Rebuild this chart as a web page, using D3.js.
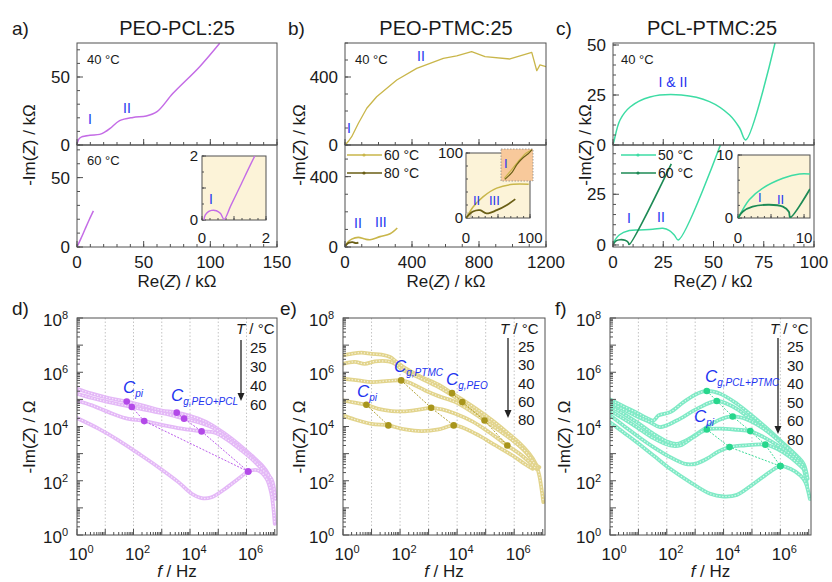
<!DOCTYPE html>
<html lang="en">
<head>
<meta charset="UTF-8">
<script src="https://d3js.org/d3.v7.min.js"></script>
<style>
  body { margin: 0; background: #fff; }
  svg { font-family: Arial, "Liberation Sans", sans-serif; }
</style>
</head>
<body>
<script>
// ---------- Nyquist data, kOhm : [Re(Z), -Im(Z)] ----------
const a40 = [[0,0],[0.4,2],[1.5,4.5],[3.5,6],[9.8,7.2],[17,7.8],[21,9.6],[24.8,12.2],[32,17.9],[42,20.3],[52,21.3],[60,24.5],[72,38],[92,57.6],[107,74.8]];
const a60 = [[0,0],[3,6.2],[6,12.8],[9,19.3],[12.3,26]];
const a60zoom = [[0.06,0],[0.1,0.15],[0.2,0.26],[0.3,0.3],[0.45,0.29],[0.58,0.2],[0.69,0.02],[0.9,0.45],[1.2,1.07],[1.5,1.7],[1.7,2.1]];

const b40 = [[0,0],[6,6],[20,22],[40,49],[80,128],[130,216],[189,284],[309,382],[428,451],[587,510],[667,524],[756,549],[836,520],[985,506],[1115,545],[1145,437],[1164,471],[1200,461]];
const b60 = [[0,0],[15,25],[40,45],[79,55],[119,45],[149,41],[209,59],[269,75],[312,108]];
const b80 = [[0,0],[10,15],[25,25],[45,28],[65,22],[80,25]];
const b60zoom = [[0,0],[1,1],[11,17],[27,33],[48,46],[74,52],[98,52]];
const b80zoom = [[0,0],[11,10],[22,12],[32,7],[48,12],[64,20],[77,29]];
const b60zoom2 = [[0.1,0.08],[0.3,0.32],[0.45,0.5],[0.6,0.68],[0.8,0.88],[0.95,0.96]];
const b80zoom2 = [[0.12,0.05],[0.35,0.28],[0.5,0.52],[0.68,0.72],[0.85,0.85],[0.97,0.98]];

const c40 = [[0,0],[0.5,2],[3.5,12.5],[8.5,19],[18.4,24],[34,25],[48,21.7],[58,15],[63,8.5],[66,2.5],[80.6,51]];
const c50 = [[0,0.8],[3.1,4.9],[8.1,7.1],[13.1,7.4],[19.8,7.7],[24.8,8.2],[28.1,7.1],[30.5,4.9],[32.5,2.5],[53.7,50]];
const c60 = [[0,0],[1.5,2],[3.5,2.6],[6,2.3],[7.6,1.2],[8,0.2],[29,40]];
const c50zoom = [[0.1,0.1],[1.7,2.9],[3.7,4.7],[6.8,6.3],[9.3,7],[10.9,7]];
const c60zoom = [[0,0],[0.7,1],[2.2,1.8],[4.7,2.1],[6.8,1.8],[7.7,1],[7.9,0.1],[10.9,4.6]];

// ---------- Bode data : [log10 f/Hz, log10 -Im(Z)/Ohm] ----------
const d25 = [[0,5.39],[0.53,5.21],[1.12,5.05],[1.76,4.92],[2.41,4.75],[3.0,4.59],[3.53,4.51],[4.29,4.29],[4.76,4.06],[5.24,3.73],[5.71,3.36],[6.18,2.93],[6.53,2.59],[6.76,2.26],[6.88,1.83]];
const d30 = [[0,5.21],[0.53,5.05],[1.12,4.9],[1.94,4.72],[2.53,4.59],[3.12,4.47],[3.79,4.29],[4.29,4.16],[4.76,3.98],[5.24,3.65],[5.71,3.28],[6.18,2.87],[6.53,2.54],[6.82,2.13],[6.94,1.52]];
const d40 = [[0,4.96],[0.53,4.78],[1.12,4.53],[1.71,4.31],[2.38,4.2],[3.0,4.06],[3.71,3.92],[4.41,3.82],[4.88,3.77],[5.35,3.49],[5.82,3.12],[6.24,2.75],[6.59,2.38],[6.88,2.07],[7.02,1.33]];
const d60 = [[0,4.31],[0.76,3.92],[1.47,3.49],[2.18,3.0],[2.88,2.5],[3.59,1.95],[4.06,1.52],[4.41,1.36],[4.76,1.39],[5.24,1.7],[5.71,2.07],[6.06,2.34],[6.41,2.38],[6.71,2.07],[6.88,1.52],[7.0,0.41]];
const dCpi = [[1.76,4.92],[1.94,4.72],[2.38,4.2],[6.06,2.34]];
const dCg = [[3.53,4.51],[3.79,4.29],[4.41,3.82],[6.06,2.34]];
const dTemps = ['25', '30', '40', '60'];

const e25 = [[0,6.62],[0.29,6.68],[0.65,6.72],[1.0,6.68],[1.35,6.65],[1.65,6.56],[1.88,6.38],[2.18,6.15],[2.76,5.82],[3.35,5.54],[3.82,5.23],[4.29,4.92],[4.76,4.59],[5.24,4.22],[5.71,3.82],[6.18,3.4],[6.53,3.0],[6.76,2.62],[6.88,2.19],[7.02,1.21]];
const e30 = [[0,6.31],[0.41,6.38],[0.76,6.31],[1.12,6.4],[1.59,6.4],[1.82,6.31],[2.06,6.11],[2.76,5.76],[3.35,5.45],[4.18,4.9],[4.76,4.47],[5.24,4.1],[5.71,3.7],[6.18,3.3],[6.53,2.91],[6.76,2.59],[6.88,2.5]];
const e40 = [[0,5.76],[0.53,5.7],[1.0,5.64],[1.59,5.68],[2.04,5.7],[2.41,5.58],[2.88,5.33],[3.35,5.12],[3.94,4.9],[4.53,4.53],[4.96,4.22],[5.47,3.85],[5.94,3.49],[6.41,3.06],[6.65,2.71],[6.82,2.44]];
const e60 = [[0,4.96],[0.41,4.88],[0.82,4.8],[1.24,4.65],[1.71,4.57],[2.18,4.56],[2.65,4.62],[3.09,4.69],[3.47,4.63],[3.94,4.47],[4.53,4.19],[5.12,3.79],[5.76,3.3],[6.18,3.0],[6.53,2.69],[6.76,2.44]];
const e80 = [[0,4.41],[0.41,4.26],[1.0,4.1],[1.59,4.04],[2.18,3.89],[2.76,3.83],[3.35,3.89],[3.88,4.04],[4.29,3.92],[4.76,3.67],[5.35,3.3],[5.94,2.93],[6.41,2.59],[6.65,2.44]];
const eCpi = [[0.82,4.8],[1.59,4.04]];
const eCgPTMC = [[2.04,5.7],[3.09,4.69],[3.88,4.04]];
const eCgPEO = [[3.82,5.23],[4.18,4.9],[4.96,4.22],[5.76,3.3]];
const eTemps = ['25', '30', '40', '60', '80'];

const f25 = [[0,5.0],[0.47,4.75],[0.94,4.51],[1.29,4.31],[1.53,4.22],[1.71,4.41],[2.12,4.53],[2.59,4.9],[3.0,5.17],[3.41,5.31],[3.88,5.21],[4.47,4.84],[5.06,4.35],[5.65,3.82],[6.12,3.36],[6.47,3.0],[6.71,2.69],[6.82,2.44],[6.94,1.83]];
const f30 = [[0,4.9],[0.47,4.63],[0.94,4.38],[1.41,4.16],[1.76,3.98],[2.35,4.22],[3.06,4.65],[3.76,4.94],[4.35,4.72],[4.94,4.29],[5.53,3.85],[6.12,3.36],[6.59,2.91],[6.82,2.62],[6.96,2.07]];
const f40 = [[0,4.75],[0.47,4.47],[0.94,4.16],[1.53,3.73],[2.0,3.45],[2.35,3.36],[2.82,3.57],[3.41,3.98],[3.88,4.26],[4.32,4.37],[4.82,4.26],[5.41,3.92],[6.0,3.42],[6.47,3.0],[6.76,2.62]];
const f50 = [[0,4.59],[0.47,4.29],[0.94,3.98],[1.53,3.57],[2.12,3.3],[2.47,3.3],[2.94,3.61],[3.41,3.89],[3.88,3.92],[4.47,3.88],[4.94,3.83],[5.41,3.61],[6.0,3.24],[6.47,2.87],[6.82,2.54]];
const f60 = [[0,4.41],[0.47,4.04],[0.94,3.67],[1.53,3.24],[2.12,2.87],[2.65,2.62],[3.0,2.62],[3.41,2.81],[3.82,3.08],[4.21,3.24],[4.71,3.3],[5.47,3.33],[5.88,3.18],[6.35,2.87],[6.82,2.44]];
const f80 = [[0,4.16],[0.47,3.79],[0.94,3.42],[1.53,2.93],[2.12,2.44],[2.82,1.95],[3.53,1.52],[4.0,1.42],[4.47,1.48],[5.06,1.89],[5.65,2.34],[6.0,2.54],[6.35,2.44],[6.71,2.19],[6.88,1.95],[7.04,1.33]];
const fCg = [[3.41,5.31],[3.76,4.94],[4.32,4.37],[4.94,3.83],[5.47,3.33],[6.0,2.54]];
const fCpi = [[3.41,3.89],[4.21,3.24],[6.0,2.54]];
const fTemps = ['25', '30', '40', '50', '60', '80'];

// ---------- colours ----------
const INK = '#1a1a1a', AXC = '#505050', BLUE = '#2233f0', BEIGE = '#fcf3d8';
const VIO = '#c46ce6', VIO_BAND = '#e4b8f7', VIO_MARK = '#b349e8';
const OLV = '#c9b64a', OLV_DARK = '#6a5e15', OLV_BAND = '#e2d48c', OLV_MARK = '#a8951c';
const AQU = '#3ddca4', AQU_DARK = '#1d8a55', AQU_BAND = '#80eac6', AQU_MARK = '#27d68c';

const svg = d3.select('body').append('svg').attr('width', 832).attr('height', 582);

// text with italic / sub / sup parts
function rich(x, y, parts, o = {}) {
  const t = svg.append('text').attr('x', x).attr('y', y)
    .attr('font-size', o.fs || 16).attr('fill', o.fill || INK)
    .attr('text-anchor', o.anchor || 'start');
  let shift = 0;
  parts.forEach(p => {
    const [s, st] = Array.isArray(p) ? p : [p, {}];
    const ts = t.append('tspan').text(s);
    if (st.i) ts.attr('font-style', 'italic');
    if (st.fs) ts.attr('font-size', st.fs);
    const want = st.sup ? -st.sup : (st.sub || 0);
    if (want !== shift) { ts.attr('dy', want - shift); shift = want; }
  });
  if (o.rot) t.attr('transform', `rotate(-90 ${x} ${y})`);
  return t;
}

let nClip = 0;
function clipRect(x0, y0, x1, y1) {
  const id = 'clip' + (nClip++);
  svg.append('clipPath').attr('id', id).append('rect')
    .attr('x', x0).attr('y', y0).attr('width', x1 - x0).attr('height', y1 - y0);
  return `url(#${id})`;
}

function drawTicks(g, scale, vals, dir, at, len) {
  const [lo, hi] = d3.extent(scale.domain());
  const v = vals.filter(d => d >= lo - 1e-9 && d <= hi + 1e-9);
  if (dir === 'x') {
    g.append('g').selectAll('line').data(v).join('line')
      .attr('x1', d => scale(d)).attr('x2', d => scale(d)).attr('y1', at).attr('y2', at - len)
      .attr('stroke', AXC).attr('stroke-width', 1);
  } else {
    g.append('g').selectAll('line').data(v).join('line')
      .attr('y1', d => scale(d)).attr('y2', d => scale(d)).attr('x1', at).attr('x2', at + len)
      .attr('stroke', AXC).attr('stroke-width', 1);
  }
}

function linFrame(xs, ys, o) {
  const g = svg.append('g');
  const [x0, x1] = xs.range(), [yb, yt] = ys.range();
  g.append('rect').attr('x', x0).attr('y', yt).attr('width', x1 - x0).attr('height', yb - yt)
    .attr('fill', o.fill || 'none').attr('stroke', o.stroke || AXC).attr('stroke-width', 1);
  const mn = o.minLen || 3, mj = o.majLen || 6;
  drawTicks(g, xs, o.xMin || [], 'x', yb, mn);
  drawTicks(g, xs, o.xMaj || [], 'x', yb, mj);
  drawTicks(g, ys, o.yMin || [], 'y', x0, mn);
  drawTicks(g, ys, o.yMaj || [], 'y', x0, mj);
  return g;
}

function xLabels(xs, vals, base, fs) {
  svg.append('g').selectAll('text').data(vals).join('text')
    .attr('x', d => xs(d)).attr('y', base).attr('text-anchor', 'middle')
    .attr('font-size', fs).attr('fill', INK).text(d => d);
}
function yLabels(ys, x, vals, fs) {
  svg.append('g').selectAll('text').data(vals).join('text')
    .attr('x', x).attr('y', d => ys(d) + fs * 0.36).attr('text-anchor', 'end')
    .attr('font-size', fs).attr('fill', INK).text(d => d);
}

function curve(xs, ys, data, color, w, kind) {
  const [x0, x1] = xs.range(), [yb, yt] = ys.range();
  const ln = d3.line().x(d => xs(d[0])).y(d => ys(d[1]))
    .curve(kind === 'lin' ? d3.curveLinear : d3.curveCatmullRom.alpha(0.5));
  svg.append('path').attr('d', ln(data)).attr('fill', 'none')
    .attr('stroke', color).attr('stroke-width', w || 1.4).attr('stroke-linejoin', 'round')
    .attr('clip-path', clipRect(x0, yt, x1, yb));
}

function legendRow(x, y, color, label) {
  svg.append('line').attr('x1', x).attr('x2', x + 35).attr('y1', y).attr('y2', y)
    .attr('stroke', color).attr('stroke-width', 1.4);
  svg.append('circle').attr('cx', x + 17).attr('cy', y).attr('r', 1.6).attr('fill', color);
  rich(x + 37, y + 5, [label], { fs: 14 });
}

const range = (a, b, s) => d3.range(a, b + s / 2, s);

// ================= a) PEO-PCL:25 =================
const xA = d3.scaleLinear().domain([0, 150]).range([77, 277]);
const yAt = d3.scaleLinear().domain([0, 75]).range([145, 43]);
const yAb = d3.scaleLinear().domain([0, 73.5]).range([247, 145]);
curve(xA, yAt, a40, VIO, 1.5);
curve(xA, yAb, a60, VIO, 1.5);
linFrame(xA, yAt, { xMin: range(0, 150, 10), xMaj: [0, 50, 100, 150], yMin: range(0, 70, 10), yMaj: [0, 50] });
linFrame(xA, yAb, { xMin: range(0, 150, 10), xMaj: [0, 50, 100, 150], yMin: range(0, 70, 10), yMaj: [0, 50] });
const xAi = d3.scaleLinear().domain([0, 2]).range([202, 266]);
const yAi = d3.scaleLinear().domain([0, 2]).range([220, 156]);
linFrame(xAi, yAi, { fill: BEIGE, xMin: range(0, 2, 0.25), xMaj: [0, 1, 2], yMin: range(0, 2, 0.5), yMaj: [0, 1, 2], minLen: 2, majLen: 4 });
curve(xAi, yAi, a60zoom, VIO, 1.4);
xLabels(xAi, [0, 2], 243, 15);
yLabels(yAi, 198, [0, 2], 15);
xLabels(xA, [0, 50, 100, 150], 268, 17);
yLabels(yAt, 70, [0, 50], 17);
yLabels(yAb, 70, [0, 50], 17);
rich(87, 64, ['40 °C'], { fs: 13 });
rich(87, 165, ['60 °C'], { fs: 13 });
rich(88, 124, ['I'], { fs: 14, fill: BLUE });
rich(123, 113, ['II'], { fs: 14, fill: BLUE });
rich(209, 204, ['I'], { fs: 14, fill: BLUE });

// ================= b) PEO-PTMC:25 =================
const xB = d3.scaleLinear().domain([0, 1200]).range([345, 546]);
const yBt = d3.scaleLinear().domain([0, 600]).range([145, 43]);
const yBb = d3.scaleLinear().domain([0, 580]).range([247, 145]);
curve(xB, yBt, b40, OLV, 1.3, 'lin');
curve(xB, yBb, b60, OLV, 1.6);
curve(xB, yBb, b80, OLV_DARK, 1.8);
linFrame(xB, yBt, { xMin: range(0, 1200, 100), xMaj: [0, 400, 800, 1200], yMin: range(0, 600, 100), yMaj: [0, 400] });
linFrame(xB, yBb, { xMin: range(0, 1200, 100), xMaj: [0, 400, 800, 1200], yMin: range(0, 600, 100), yMaj: [0, 400] });
const xBi = d3.scaleLinear().domain([0, 100]).range([466, 530]);
const yBi = d3.scaleLinear().domain([0, 100]).range([218, 153]);
linFrame(xBi, yBi, { fill: BEIGE, xMin: range(0, 100, 10), xMaj: [0, 50, 100], yMin: range(0, 100, 20), yMaj: [0, 100], minLen: 2, majLen: 4 });
svg.append('rect').attr('x', 466).attr('y', 213).attr('width', 5).attr('height', 5)
  .attr('fill', '#e8dcb4').attr('stroke', '#999').attr('stroke-width', 0.6);
curve(xBi, yBi, b60zoom, OLV, 1.5);
curve(xBi, yBi, b80zoom, OLV_DARK, 1.8);
const xBs = d3.scaleLinear().domain([0, 1]).range([501, 533]);
const yBs = d3.scaleLinear().domain([0, 1]).range([181, 149]);
svg.append('rect').attr('x', 501).attr('y', 149).attr('width', 32).attr('height', 32)
  .attr('fill', '#f8c99b').attr('stroke', '#8a8a8a').attr('stroke-width', 0.8).attr('stroke-dasharray', '1.5,1.5');
curve(xBs, yBs, b60zoom2, OLV, 1.2);
curve(xBs, yBs, b80zoom2, OLV_DARK, 1.2);
xLabels(xBi, [0, 100], 243, 15);
yLabels(yBi, 463, [0, 100], 15);
xLabels(xB, [0, 400, 800, 1200], 268, 17);
yLabels(yBt, 338, [0, 400], 17);
yLabels(yBb, 338, [0, 400], 17);
legendRow(347, 155, OLV, '60 °C');
legendRow(347, 173, OLV_DARK, '80 °C');
rich(355, 64, ['40 °C'], { fs: 13 });
rich(347, 133, ['I'], { fs: 14, fill: BLUE });
rich(417, 61, ['II'], { fs: 14, fill: BLUE });
rich(354, 228, ['II'], { fs: 14, fill: BLUE });
rich(375, 227, ['III'], { fs: 14, fill: BLUE });
rich(473, 205, ['II'], { fs: 13, fill: BLUE });
rich(489, 205, ['III'], { fs: 13, fill: BLUE });
rich(504, 168, ['I'], { fs: 13, fill: BLUE });

// ================= c) PCL-PTMC:25 =================
const xC = d3.scaleLinear().domain([0, 100]).range([613, 814]);
const yCt = d3.scaleLinear().domain([0, 51]).range([145, 43]);
const yCb = d3.scaleLinear().domain([-1, 49.3]).range([247, 145]);
curve(xC, yCt, c40, AQU, 1.5);
curve(xC, yCb, c50, AQU, 1.5);
curve(xC, yCb, c60, AQU_DARK, 1.6);
linFrame(xC, yCt, { xMin: range(0, 100, 5), xMaj: [0, 25, 50, 75, 100], yMin: range(0, 50, 5), yMaj: [0, 25, 50] });
linFrame(xC, yCb, { xMin: range(0, 100, 5), xMaj: [0, 25, 50, 75, 100], yMin: range(0, 45, 5), yMaj: [0, 25] });
const xCi = d3.scaleLinear().domain([0, 10.9]).range([738, 810]);
const yCi = d3.scaleLinear().domain([0, 10]).range([218, 155]);
linFrame(xCi, yCi, { fill: BEIGE, xMin: range(0, 10, 1), xMaj: [0, 5, 10], yMin: range(0, 10, 2), yMaj: [0, 10], minLen: 2, majLen: 4 });
curve(xCi, yCi, c50zoom, AQU, 1.5);
curve(xCi, yCi, c60zoom, AQU_DARK, 1.8);
xLabels(xCi, [0, 10], 243, 15);
yLabels(yCi, 733, [0, 10], 15);
xLabels(xC, [0, 25, 50, 75, 100], 268, 17);
yLabels(yCt, 606, [0, 25, 50], 17);
yLabels(yCb, 606, [0, 25], 17);
legendRow(621, 155, AQU, '50 °C');
legendRow(621, 173, AQU_DARK, '60 °C');
rich(621, 64, ['40 °C'], { fs: 13 });
rich(673, 87, ['I & II'], { fs: 14, fill: BLUE, anchor: 'middle' });
rich(627, 223, ['I'], { fs: 14, fill: BLUE });
rich(657, 222, ['II'], { fs: 14, fill: BLUE });
rich(758, 202, ['I'], { fs: 13, fill: BLUE });
rich(777, 204, ['II'], { fs: 13, fill: BLUE });

// titles row 1
[['a)', 12, 'PEO-PCL:25', 177], ['b)', 288, 'PEO-PTMC:25', 446], ['c)', 556, 'PCL-PTMC:25', 712]].forEach(([l, lx, t, tx]) => {
  rich(lx, 35, [l], { fs: 19 });
  rich(tx, 35, [t], { fs: 20, anchor: 'middle' });
});
[[177, 35], [446, 305], [713, 591]].forEach(([cx, ty]) => {
  rich(cx, 287, ['Re(', ['Z', { i: true }], ') / kΩ'], { fs: 17, anchor: 'middle' });
  rich(ty, 145, ['-Im(', ['Z', { i: true }], ') / kΩ'], { fs: 17, anchor: 'middle', rot: true });
});

// ================= Bode panels =================
function bodePanel(cfg) {
  const [x0, x1] = cfg.xr;
  const x = d3.scaleLog().domain([1, 1.2e7]).range(cfg.xr);
  const y = d3.scaleLog().domain([1, 1e8]).range([535, 318]);
  const g = svg.append('g');
  g.append('g').selectAll('line').data([1e1, 1e2, 1e3, 1e4, 1e5, 1e6]).join('line')
    .attr('x1', d => x(d)).attr('x2', d => x(d)).attr('y1', 318).attr('y2', 535)
    .attr('stroke', '#b5b5b5').attr('stroke-width', 0.8).attr('stroke-dasharray', '1.5,2');
  const gc = g.append('g').attr('clip-path', clipRect(x0, 318, x1, 535));
  const smooth = d3.line().x(d => x(10 ** d[0])).y(d => y(10 ** d[1])).curve(d3.curveCatmullRom.alpha(0.5));
  const straight = d3.line().x(d => x(10 ** d[0])).y(d => y(10 ** d[1]));
  cfg.series.forEach(s => {
    gc.append('path').attr('d', smooth(s)).attr('fill', 'none').attr('stroke', cfg.band)
      .attr('stroke-width', 3.8).attr('stroke-linecap', 'round').attr('stroke-linejoin', 'round');
    gc.append('path').attr('d', smooth(s)).attr('fill', 'none').attr('stroke', '#fff')
      .attr('stroke-opacity', 0.7).attr('stroke-width', 1.5).attr('stroke-dasharray', '0 3.1')
      .attr('stroke-linecap', 'round');
  });
  cfg.chains.forEach(c => {
    gc.append('path').attr('d', straight(c)).attr('fill', 'none').attr('stroke', cfg.mark)
      .attr('stroke-width', 0.9).attr('stroke-dasharray', '2,1.5');
  });
  gc.append('g').selectAll('circle').data(cfg.chains.flat()).join('circle')
    .attr('cx', d => x(10 ** d[0])).attr('cy', d => y(10 ** d[1])).attr('r', 3.3).attr('fill', cfg.mark);

  g.append('rect').attr('x', x0).attr('y', 318).attr('width', x1 - x0).attr('height', 217)
    .attr('fill', 'none').attr('stroke', AXC);
  const xMinor = [], yMinor = [];
  for (let k = 0; k < 8; k++) for (let m = 2; m <= 9; m++) { xMinor.push(m * 10 ** k); yMinor.push(m * 10 ** k); }
  const decades = d3.range(0, 9).map(k => 10 ** k);
  drawTicks(g, x, xMinor, 'x', 535, 3);
  drawTicks(g, x, decades, 'x', 535, 6);
  drawTicks(g, y, yMinor, 'y', x0, 3);
  drawTicks(g, y, decades, 'y', x0, 6);
  [0, 2, 4, 6].forEach(k => rich(x(10 ** k) + 4, 560, ['10', [String(k), { sup: 7, fs: 11 }]], { fs: 17, anchor: 'middle' }));
  [0, 2, 4, 6, 8].forEach(k => rich(x0 - 9, y(10 ** k) + 8, ['10', [String(k), { sup: 7, fs: 11 }]], { fs: 17, anchor: 'end' }));
  rich((x0 + x1) / 2, 577, [['f', { i: true }], ' / Hz'], { fs: 17, anchor: 'middle' });
  rich(cfg.ty, 437, ['-Im(', ['Z', { i: true }], ') / Ω'], { fs: 17, anchor: 'middle', rot: true });
  rich(cfg.letter[1], 315, [cfg.letter[0]], { fs: 19 });

  // temperature list
  const tk = cfg.tLeg;
  rich(tk.tx, 334, [['T', { i: true }], ' / °C'], { fs: 15 });
  svg.append('g').selectAll('text').data(cfg.temps).join('text')
    .attr('x', tk.nx).attr('y', (d, i) => tk.y0 + i * tk.dy).attr('font-size', 15).attr('fill', INK).text(d => d);
  svg.append('line').attr('x1', tk.ax).attr('x2', tk.ax).attr('y1', tk.a0).attr('y2', tk.a1 - 6)
    .attr('stroke', '#222').attr('stroke-width', 1.3);
  svg.append('path').attr('d', `M${tk.ax - 3.5},${tk.a1 - 8}L${tk.ax + 3.5},${tk.a1 - 8}L${tk.ax},${tk.a1}Z`).attr('fill', '#222');

  cfg.notes.forEach(([px, py, sub]) => rich(px, py, [['C', { i: true }], [sub, { i: true, sub: 4, fs: 10 }]], { fs: 17, fill: BLUE }));
}

bodePanel({
  xr: [77, 277], band: VIO_BAND, mark: VIO_MARK, series: [d25, d30, d40, d60], chains: [dCpi, dCg],
  ty: 35, letter: ['d)', 12], temps: dTemps,
  tLeg: { tx: 236, nx: 250, y0: 353, dy: 19, ax: 241, a0: 340, a1: 401 },
  notes: [[123, 393, 'pi'], [171, 401, 'g,PEO+PCL']]
});
bodePanel({
  xr: [343, 545], band: OLV_BAND, mark: OLV_MARK, series: [e25, e30, e40, e60, e80], chains: [eCpi, eCgPTMC, eCgPEO],
  ty: 305, letter: ['e)', 280], temps: eTemps,
  tLeg: { tx: 500, nx: 518, y0: 352, dy: 18.3, ax: 508, a0: 338, a1: 418 },
  notes: [[357, 397, 'pi'], [394, 372, 'g,PTMC'], [446, 385, 'g,PEO']]
});
bodePanel({
  xr: [610, 811], band: AQU_BAND, mark: AQU_MARK, series: [f25, f30, f40, f50, f60, f80], chains: [fCg, fCpi],
  ty: 570, letter: ['f)', 555], temps: fTemps,
  tLeg: { tx: 770, nx: 787, y0: 352, dy: 18.5, ax: 778, a0: 338, a1: 434 },
  notes: [[705, 382, 'g,PCL+PTMC'], [694, 422, 'pi']]
});
</script>
</body>
</html>
